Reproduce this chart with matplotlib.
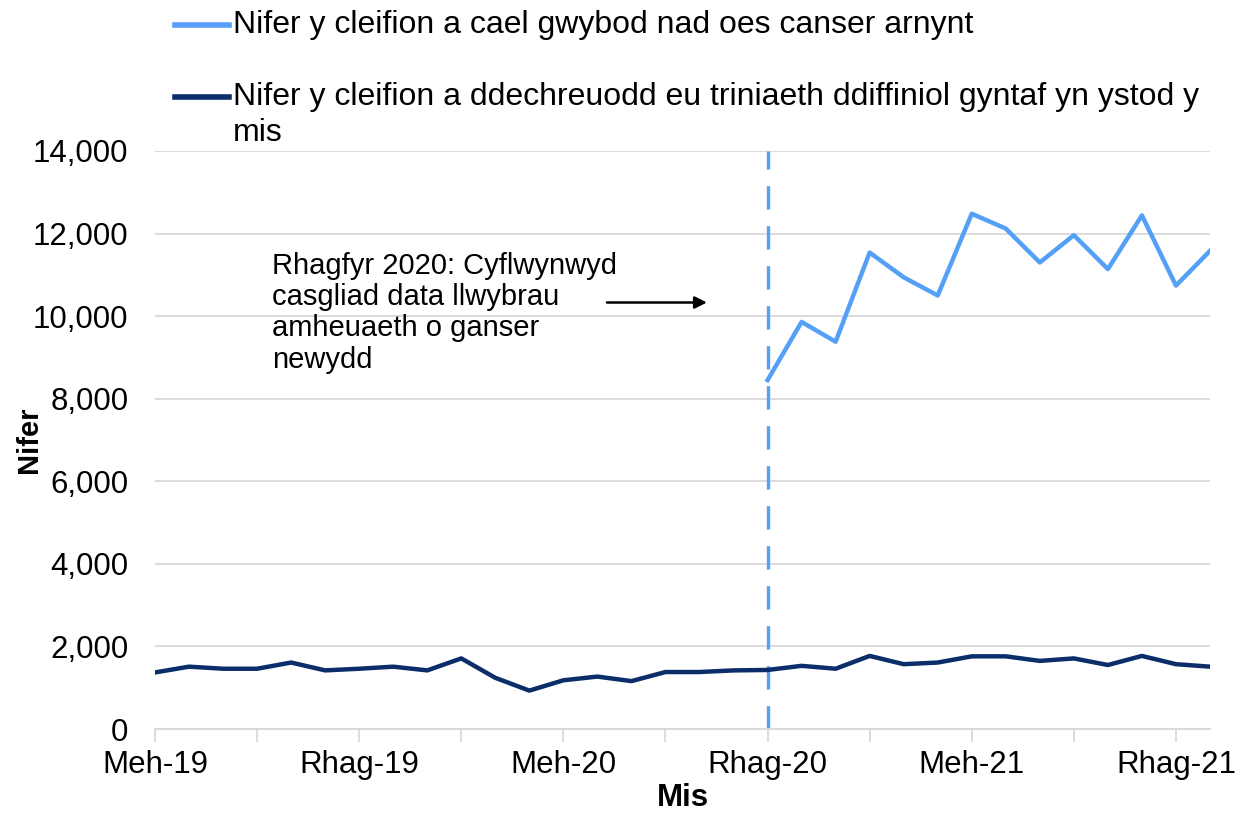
import matplotlib
matplotlib.use('Agg')
import matplotlib.pyplot as plt
from matplotlib.lines import Line2D
import numpy as np

plt.rcParams['font.family'] = ['Liberation Sans', 'DejaVu Sans']

# misoedd Meh-19 .. Ion-22
month_names = ['Meh', 'Gor', 'Aws', 'Med', 'Hyd', 'Tach', 'Rhag', 'Ion', 'Chwe', 'Maw', 'Ebr', 'Mai']
months = []
year = 19
for i in range(32):
    name = month_names[i % 12]
    if name == 'Ion':
        year += 1
    months.append(f'{name}-{year}')

# cleifion a ddechreuodd driniaeth (o Meh-19)
treated = [1370, 1510, 1460, 1460, 1610, 1420, 1460, 1510, 1420, 1710,
           1240, 930, 1180, 1270, 1160, 1380, 1380, 1420, 1430, 1530,
           1460, 1770, 1570, 1610, 1760, 1760, 1650, 1710, 1550, 1770,
           1570, 1510]

# cleifion heb ganser (o Rhag-20)
no_cancer_start = 'Rhag-20'
no_cancer = [8450, 9860, 9380, 11540, 10940, 10500, 12480, 12120, 11300,
             11960, 11140, 12440, 10740, 11580]

label_light = 'Nifer y cleifion a cael gwybod nad oes canser arnynt'
label_dark = 'Nifer y cleifion a ddechreuodd eu triniaeth ddiffiniol gyntaf yn ystod y'
label_dark2 = 'mis'
note = 'Rhagfyr 2020: Cyflwynwyd\ncasgliad data llwybrau\namheuaeth o ganser\nnewydd'

light = '#54A0F7'
dark = '#0B2E6A'
grid_c = '#D9D9D9'
fs = 22.5

fig = plt.figure(figsize=(12.41, 8.17), dpi=100)
ax = fig.add_axes([0.1249, 0.1077, 0.975 - 0.1249, 0.8152 - 0.1077])

x = np.arange(len(months))
start = months.index(no_cancer_start)
x_nc = np.arange(start, start + len(no_cancer))

ax.axvline(start, color=light, lw=2.4, dashes=(7, 5), zorder=2)
ax.plot(x, treated, color=dark, lw=3.2, solid_joinstyle='round', zorder=3)
ax.plot(x_nc, no_cancer, color=light, lw=3.2, solid_joinstyle='round', zorder=3)

ax.set_xlim(0, len(months) - 1)
ax.set_ylim(0, 14000)
ax.set_yticks(np.arange(0, 14001, 2000))
ax.set_yticklabels([f'{v:,}' for v in range(0, 14001, 2000)], fontsize=fs)
ax.yaxis.grid(True, color=grid_c, lw=1.3)
ax.set_axisbelow(True)
ax.tick_params(axis='y', length=0, pad=19)

ax.set_xticks(x[::6])
ax.set_xticklabels([months[i] for i in x[::6]], fontsize=fs)
ax.set_xticks(x[::3], minor=True)
ax.tick_params(axis='x', which='both', length=9, color=grid_c, width=1.3, pad=6)

for s in ['top', 'right', 'left']:
    ax.spines[s].set_visible(False)
ax.spines['bottom'].set_color(grid_c)
ax.spines['bottom'].set_linewidth(1.3)

ax.set_xlabel('Mis', fontsize=fs, fontweight='bold', labelpad=2)
ax.set_ylabel('Nifer', fontsize=21, fontweight='bold')
ax.yaxis.set_label_coords(-0.106, 0.5)

ax.text(3.45, 11560, note, fontsize=21, va='top', ha='left', linespacing=1.15)
ax.annotate('', xy=(16.3, 10330), xytext=(13.2, 10330),
            arrowprops=dict(arrowstyle='-|>', color='black', lw=1.8, mutation_scale=18))

# legend drawn by hand above the axes
W, H = 1241, 817
for ypx, col, txt in [(25, light, label_light), (97, dark, label_dark)]:
    fig.add_artist(Line2D([175 / W, 229 / W], [1 - ypx / H, 1 - ypx / H], color=col, lw=4))
    fig.text(233 / W, 1 - ypx / H, txt, fontsize=23, va='center', ha='left')
fig.text(233 / W, 1 - 133 / H, label_dark2, fontsize=23, va='center', ha='left')

fig.savefig('out.png', dpi=100)
